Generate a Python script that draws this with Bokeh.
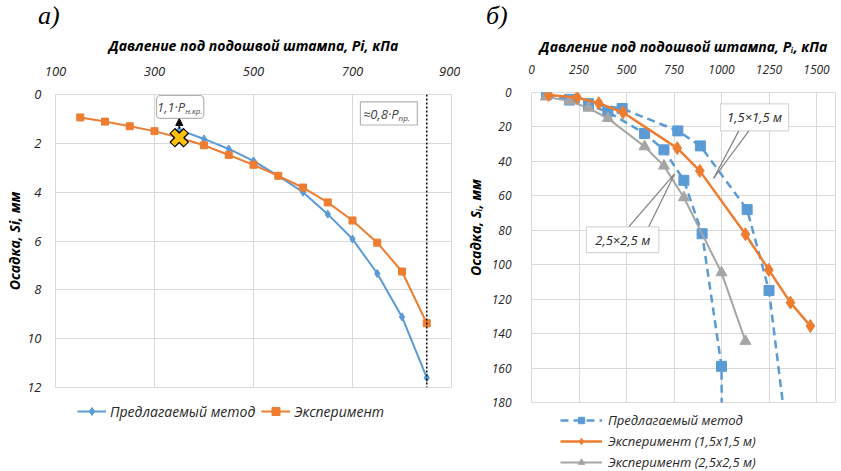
from bokeh.plotting import figure
from bokeh.layouts import row, column
from bokeh.models import (FixedTicker, Legend, LegendItem, Label, BoxAnnotation,
                          Arrow, NormalHead, Span, Div)
from bokeh.embed import file_html
from bokeh.resources import INLINE

# ---------------- data: chart a) ----------------
a_method_p = [350, 400, 450, 500, 550, 600, 650, 700, 750, 800, 850]
a_method_s = [1.45, 1.82, 2.23, 2.72, 3.33, 4.0, 4.9, 5.92, 7.33, 9.11, 11.6]
a_exp_p = [150, 200, 250, 300, 350, 400, 450, 500, 550, 600, 650, 700, 750, 800, 850]
a_exp_s = [0.94, 1.11, 1.3, 1.5, 1.77, 2.08, 2.48, 2.88, 3.33, 3.81, 4.42, 5.16, 6.07, 7.25, 9.37]
a_crit_p = [350]
a_crit_s = [1.77]
a_limit_p = 850
a_xticks = [100, 300, 500, 700, 900]
a_yticks = [0, 2, 4, 6, 8, 10, 12]

# ---------------- data: chart б) ----------------
b_m15_p = [80, 200, 300, 477, 770, 889, 1135, 1250, 1345]
b_m15_s = [1, 4, 6.5, 9.3, 22.3, 31, 68, 115, 200]
b_m25_p = [80, 200, 300, 402, 595, 697, 802, 898, 1000, 1002]
b_m25_s = [1, 4.4, 7.3, 11.2, 23.8, 33.3, 51, 82, 159, 200]
b_e15_p = [90, 240, 354, 482, 767, 886, 1126, 1249, 1363, 1468]
b_e15_s = [1.5, 2.9, 6.2, 11.6, 32.3, 45.5, 82.3, 103, 122, 135.6]
b_e25_p = [75, 200, 300, 402, 595, 697, 802, 1000, 1126]
b_e25_s = [2.5, 5, 9, 15, 31.4, 42.6, 61, 104.6, 144.4]
b_xticks = [0, 250, 500, 750, 1000, 1250, 1500]
b_yticks = [0, 20, 40, 60, 80, 100, 120, 140, 160, 180]

BLUE = "#5B9BD5"
ORANGE = "#ED7D31"
GRAY = "#A5A5A5"
GRID = "#D9D9D9"
FONT = "Open Sans"


def style_axes(p, tick_size):
    for ax in (p.xaxis[0], p.yaxis[0]):
        ax.major_tick_line_color = None
        ax.minor_tick_line_color = None
        ax.axis_line_color = None
        ax.major_label_text_font = FONT
        ax.major_label_text_font_style = "italic"
        ax.major_label_text_font_size = tick_size
        ax.major_label_text_color = "#262626"
        ax.axis_label_text_font = FONT
        ax.axis_label_text_font_style = "bold italic"
        ax.axis_label_text_font_size = "14px"
        ax.axis_label_text_color = "#000000"
    p.xgrid.grid_line_color = GRID
    p.ygrid.grid_line_color = GRID
    p.outline_line_color = GRID
    p.background_fill_color = "white"
    p.border_fill_color = "white"


def strip(width, height, x_range, y_range, left, right):
    f = figure(width=width, height=height, output_backend="svg", toolbar_location=None,
               x_axis_type=None, y_axis_type=None, x_range=x_range, y_range=y_range,
               min_border_left=left, min_border_right=right, min_border_top=0,
               min_border_bottom=0)
    f.outline_line_color = None
    f.background_fill_color = "white"
    f.border_fill_color = "white"
    return f


def heading(width, text, x):
    html = ('<span style="position:relative; left:%dpx; top:3px; font-family:\'Liberation Serif\';'
            ' font-style:italic; font-size:26px; line-height:26px; color:#000;">%s</span>' % (x, text))
    return Div(text=html, width=width, height=32, margin=(0, 0, 0, 0))


# ================= chart a) =================
p1 = figure(width=460, height=365, x_range=(100, 900), y_range=(12, 0),
            x_axis_location="above", output_backend="svg", toolbar_location=None,
            min_border_left=55, min_border_right=9, min_border_top=61, min_border_bottom=10)
style_axes(p1, "13px")
p1.xaxis.ticker = FixedTicker(ticks=a_xticks)
p1.yaxis.ticker = FixedTicker(ticks=a_yticks)
p1.xaxis.axis_label = "Давление под подошвой штампа, Pi, кПа"
p1.yaxis.axis_label = "Осадка, Si, мм"
p1.xaxis.major_label_standoff = 13
p1.xaxis.axis_label_standoff = 9
p1.yaxis.major_label_standoff = 8
p1.yaxis.axis_label_standoff = 0

p1.add_layout(Span(location=a_limit_p, dimension="height", line_color="black",
                   line_dash="2 2", line_width=1.5))

p1.line(a_method_p, a_method_s, line_color=BLUE, line_width=2)
p1.scatter(a_method_p, a_method_s, marker="diamond", size=8, color=BLUE)
p1.line(a_exp_p, a_exp_s, line_color=ORANGE, line_width=2)
p1.scatter(a_exp_p, a_exp_s, marker="square", size=7, color=ORANGE)
p1.scatter(a_crit_p, a_crit_s, marker="x", size=20, line_color="black", line_width=8)
p1.scatter(a_crit_p, a_crit_s, marker="x", size=18, line_color="#FFC000", line_width=5.5)

# annotations a)
p1.add_layout(Arrow(x_start=350, y_start=1.4, x_end=350, y_end=0.98, line_color="black",
                    line_width=1.3, end=NormalHead(size=7, fill_color="black", line_color="black")))
p1.add_layout(BoxAnnotation(left=304, right=399.6, top=0.04, bottom=0.98,
                            fill_color="white", fill_alpha=1, line_color="black",
                            line_width=1.2, border_radius=4))
p1.add_layout(Label(x=362, y=0.5, text="1,1·P", text_align="right", text_baseline="middle",
                    text_font=FONT, text_font_style="italic", text_font_size="13px"))
p1.add_layout(Label(x=362, y=0.5, y_offset=-4, text="н.кр.", text_align="left",
                    text_baseline="middle", text_font=FONT, text_font_style="italic",
                    text_font_size="8px"))
p1.add_layout(BoxAnnotation(left=716, right=831, top=0.3, bottom=1.25,
                            fill_color="white", fill_alpha=1, line_color="black", line_width=1.2))
p1.add_layout(Label(x=793, y=0.78, text="≈0,8·P", text_align="right", text_baseline="middle",
                    text_font=FONT, text_font_style="italic", text_font_size="13px"))
p1.add_layout(Label(x=793, y=0.78, y_offset=-4, text="пр.", text_align="left",
                    text_baseline="middle", text_font=FONT, text_font_style="italic",
                    text_font_size="8px"))

# legend strip a) (series drawn out of view, only their legend keys show)
la = strip(460, 74, (-2000, -1000), (-100, -50), 55, 9)
k1l = la.line(a_method_p, a_method_s, line_color=BLUE, line_width=2)
k1m = la.scatter(a_method_p, a_method_s, marker="diamond", size=8, color=BLUE)
k2l = la.line(a_exp_p, a_exp_s, line_color=ORANGE, line_width=2)
k2m = la.scatter(a_exp_p, a_exp_s, marker="square", size=7, color=ORANGE)
la.add_layout(Legend(items=[LegendItem(label="Предлагаемый метод", renderers=[k1l, k1m]),
                            LegendItem(label="Эксперимент", renderers=[k2l, k2m])],
                     orientation="horizontal", location=(22, 50), padding=0, margin=0,
                     glyph_width=29, glyph_height=20, label_height=20, label_standoff=4,
                     spacing=6, border_line_color=None, background_fill_alpha=0,
                     label_text_font=FONT, label_text_font_style="italic",
                     label_text_font_size="14px", label_text_color="#262626"))

# ================= chart б) =================
p2 = figure(width=381, height=378, x_range=(0, 1600), y_range=(180, 0),
            x_axis_location="above", output_backend="svg", toolbar_location=None,
            min_border_left=71, min_border_right=6, min_border_top=60, min_border_bottom=8)
style_axes(p2, "12px")
p2.xaxis.ticker = FixedTicker(ticks=b_xticks)
p2.yaxis.ticker = FixedTicker(ticks=b_yticks)
p2.xaxis.axis_label = "Давление под подошвой штампа, Pᵢ, кПа"
p2.yaxis.axis_label = "\u00a0" * 11 + "Осадка, Sᵢ, мм"
p2.xaxis.major_label_standoff = 13
p2.xaxis.axis_label_standoff = 6
p2.yaxis.major_label_standoff = 14
p2.yaxis.axis_label_standoff = 4

p2.line(b_m15_p, b_m15_s, line_color=BLUE, line_width=2.5, line_dash="8 5")
p2.scatter(b_m15_p, b_m15_s, marker="square", size=10, color=BLUE)
p2.line(b_m25_p, b_m25_s, line_color=BLUE, line_width=2.5, line_dash="8 5")
p2.scatter(b_m25_p, b_m25_s, marker="square", size=10, color=BLUE)
p2.line(b_e25_p, b_e25_s, line_color=GRAY, line_width=2)
p2.scatter(b_e25_p, b_e25_s, marker="triangle", size=11, color=GRAY)
p2.line(b_e15_p, b_e15_s, line_color=ORANGE, line_width=2.5)
p2.scatter(b_e15_p, b_e15_s, marker="diamond", size=13, color=ORANGE)

# callouts б)
CALL = "#7F7F7F"
for (x0, y0) in [(1091, 22.3), (1144, 22.3)]:
    p2.add_layout(Arrow(end=None, x_start=x0, y_start=y0, x_end=959, y_end=49.8,
                        line_color=CALL, line_width=1.2))
p2.add_layout(BoxAnnotation(left=995, right=1353, top=6.6, bottom=22.3,
                            fill_color="white", fill_alpha=1, line_color=CALL, line_width=1.2))
p2.add_layout(Label(x=1174, y=14.5, text="1,5×1,5 м", text_align="center",
                    text_baseline="middle", text_font=FONT, text_font_style="italic",
                    text_font_size="13px", text_color="#262626"))
for (x0, y0) in [(512, 78), (617, 78)]:
    p2.add_layout(Arrow(end=None, x_start=x0, y_start=y0, x_end=753, y_end=47.3,
                        line_color=CALL, line_width=1.2))
p2.add_layout(BoxAnnotation(left=289, right=670, top=78, bottom=93,
                            fill_color="white", fill_alpha=1, line_color=CALL, line_width=1.2))
p2.add_layout(Label(x=480, y=85.5, text="2,5×2,5 м", text_align="center",
                    text_baseline="middle", text_font=FONT, text_font_style="italic",
                    text_font_size="13px", text_color="#262626"))

# legend strip б)
lb = strip(381, 61, (-3000, -2000), (-400, -300), 71, 6)
q1l = lb.line(b_m25_p, b_m25_s, line_color=BLUE, line_width=2.5, line_dash="8 5")
q1m = lb.scatter(b_m25_p, b_m25_s, marker="square", size=10, color=BLUE)
q2l = lb.line(b_e15_p, b_e15_s, line_color=ORANGE, line_width=2.5)
q2m = lb.scatter(b_e15_p, b_e15_s, marker="diamond", size=13, color=ORANGE)
q3l = lb.line(b_e25_p, b_e25_s, line_color=GRAY, line_width=2)
q3m = lb.scatter(b_e25_p, b_e25_s, marker="triangle", size=11, color=GRAY)
lb.add_layout(Legend(items=[LegendItem(label="Предлагаемый метод", renderers=[q1l, q1m]),
                            LegendItem(label="Эксперимент (1,5х1,5 м)", renderers=[q2l, q2m]),
                            LegendItem(label="Эксперимент (2,5х2,5 м)", renderers=[q3l, q3m])],
                     orientation="vertical", location=(29, 0), padding=0, margin=0,
                     glyph_width=42, glyph_height=16, label_height=16, label_standoff=6,
                     spacing=3, border_line_color=None, background_fill_alpha=0,
                     label_text_font=FONT, label_text_font_style="italic",
                     label_text_font_size="13px", label_text_color="#262626"))

left = column(heading(460, "а)", 38), p1, la, spacing=0)
right = column(heading(381, "б)", 26), p2, lb, spacing=0)
layout = row(left, right, spacing=0)
open("out.html", "w").write(file_html(layout, INLINE))
